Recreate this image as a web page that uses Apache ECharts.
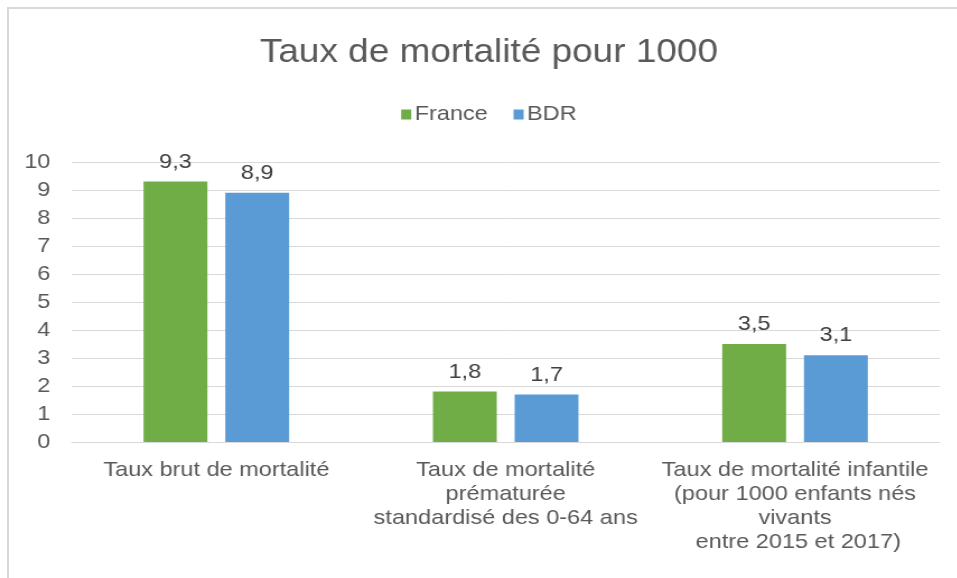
<!DOCTYPE html>
<html>
<head>
<meta charset="utf-8">
<script src="https://cdn.jsdelivr.net/npm/echarts@6/dist/echarts.min.js"></script>
<style>
  html, body { margin: 0; padding: 0; background: #fff; overflow: hidden; }
  /* the reference is a slightly widened export, so the chart is drawn narrower and stretched */
  #chart { position: absolute; left: 0; top: 0; width: 873px; height: 578px;
           transform: scaleX(1.12); transform-origin: 0 0; }
  #frame { position: absolute; left: 7px; top: 7px; width: 970px; height: 580px;
           border-top: 2px solid #d9d9d9; border-left: 2px solid #d9d9d9; pointer-events: none; }
</style>
</head>
<body>
<div id="chart"></div>
<div id="frame"></div>
<script>
const categories = [
  "Taux brut de mortalité",
  "Taux de mortalité\nprématurée\nstandardisé des 0-64 ans",
  "Taux de mortalité infantile\n(pour 1000 enfants nés\nvivants\n entre 2015 et 2017)"
];
const france = [9.3, 1.8, 3.5];
const bdr = [8.9, 1.7, 3.1];
const yTicks = { min: 0, max: 10, interval: 1 };

const font = "'Liberation Sans', Arial, sans-serif";
const fmt = p => String(p.value).replace(".", ",");

const chart = echarts.init(document.getElementById("chart"));
chart.setOption({
  backgroundColor: "#fff",
  textStyle: { fontFamily: font },
  title: {
    text: "Taux de mortalité pour 1000",
    left: "center",
    top: 31,
    textStyle: { fontFamily: font, fontSize: 33, fontWeight: "normal", color: "#595959" }
  },
  legend: {
    top: 99,
    left: "center",
    itemWidth: 9,
    itemHeight: 10,
    itemGap: 23,
    icon: "rect",
    textStyle: { fontFamily: font, fontSize: 21, color: "#595959", padding: [0, 0, 0, -2] },
    data: ["France", "BDR"]
  },
  grid: { top: 162, bottom: 136, left: 64, right: 34 },
  xAxis: {
    type: "category",
    data: categories,
    axisLine: { lineStyle: { color: "#d9d9d9", width: 1 } },
    axisTick: { show: false },
    axisLabel: {
      interval: 0,
      margin: 16,
      fontFamily: font,
      fontSize: 21,
      lineHeight: 24,
      color: "#595959",
      align: "center"
    }
  },
  yAxis: {
    type: "value",
    min: yTicks.min,
    max: yTicks.max,
    interval: yTicks.interval,
    axisLine: { show: false },
    axisTick: { show: false },
    splitLine: { lineStyle: { color: "#d9d9d9", width: 1 } },
    axisLabel: { margin: 19, fontFamily: font, fontSize: 21, color: "#595959" }
  },
  series: [
    {
      name: "France",
      type: "bar",
      data: france,
      barWidth: 57,
      barGap: "28%",
      itemStyle: { color: "#70ad47" },
      label: { show: true, position: "top", distance: 9, formatter: fmt,
               fontFamily: font, fontSize: 21, color: "#404040" }
    },
    {
      name: "BDR",
      type: "bar",
      data: bdr,
      barWidth: 57,
      barGap: "28%",
      itemStyle: { color: "#5b9bd5" },
      label: { show: true, position: "top", distance: 9, formatter: fmt,
               fontFamily: font, fontSize: 21, color: "#404040" }
    }
  ]
});
</script>
</body>
</html>
